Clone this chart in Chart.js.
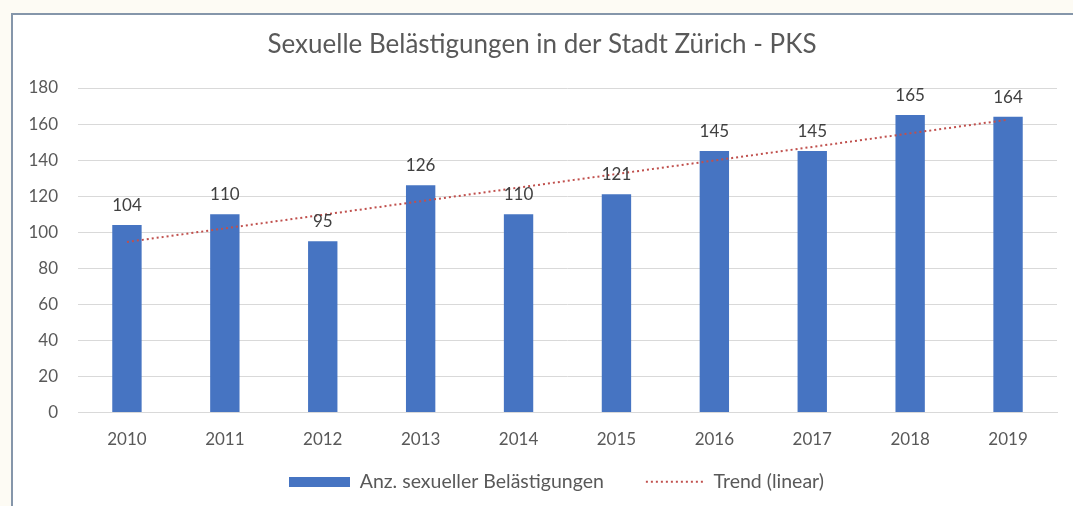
<!DOCTYPE html>
<html>
<head>
<meta charset="utf-8">
<script src="https://cdn.jsdelivr.net/npm/chart.js@4"></script>
<style>
  html, body { margin: 0; padding: 0; background: #fdfbf4; }
  #frame {
    position: absolute; left: 11px; top: 13px; width: 1070px; height: 500px;
    background: #ffffff; border-left: 2px solid #8596aa; border-top: 2px solid #8596aa;
  }
  #wrap { position: absolute; left: 0; top: 0; width: 1073px; height: 506px; }
</style>
</head>
<body>
<div id="frame"></div>
<div id="wrap"><canvas id="chart" width="1073" height="506"></canvas></div>
<script>
const years = ["2010", "2011", "2012", "2013", "2014", "2015", "2016", "2017", "2018", "2019"];
const cases = [104, 110, 95, 126, 110, 121, 145, 145, 165, 164];
const yTicks = [0, 20, 40, 60, 80, 100, 120, 140, 160, 180];

const titleText = "Sexuelle Belästigungen in der Stadt Zürich - PKS";
const barLabel = "Anz. sexueller Belästigungen";
const trendLabel = "Trend (linear)";

// least squares line through the bar values, like Excel's linear trend
function linearTrend(values) {
  const n = values.length;
  const mx = (n - 1) / 2;
  const my = values.reduce((a, b) => a + b, 0) / n;
  let sxy = 0, sxx = 0;
  values.forEach((v, i) => {
    sxy += (i - mx) * (v - my);
    sxx += (i - mx) * (i - mx);
  });
  const slope = sxy / sxx;
  return values.map((v, i) => my + slope * (i - mx));
}

const font = "Lato, 'Open Sans', sans-serif";
const textGrey = "#595959";
const barBlue = "#4674c2";
const trendRed = "#c0504d";

// legend swatches, drawn at the right end of a wide box so the gaps look like Excel's
function barSwatch() {
  const c = document.createElement("canvas");
  c.width = 90;
  c.height = 10;
  const g = c.getContext("2d");
  g.fillStyle = barBlue;
  g.fillRect(29, 0, 61, 10);
  return c;
}

function dottedSwatch() {
  const c = document.createElement("canvas");
  c.width = 90;
  c.height = 4;
  const g = c.getContext("2d");
  g.strokeStyle = trendRed;
  g.lineWidth = 2;
  g.setLineDash([2, 3]);
  g.beginPath();
  g.moveTo(32, 2);
  g.lineTo(90, 2);
  g.stroke();
  return c;
}

const barLabels = {
  id: "barLabels",
  afterDatasetsDraw(chart) {
    const ctx = chart.ctx;
    const meta = chart.getDatasetMeta(1);
    ctx.save();
    ctx.font = "17px " + font;
    ctx.fillStyle = "#404040";
    ctx.textAlign = "center";
    ctx.textBaseline = "alphabetic";
    meta.data.forEach((bar, i) => {
      ctx.fillText(String(cases[i]), bar.x, bar.y - 14);
    });
    ctx.restore();
  }
};

const swatches = [dottedSwatch(), barSwatch()];

new Chart(document.getElementById("chart"), {
  data: {
    labels: years,
    datasets: [
      {
        type: "line",
        label: trendLabel,
        data: linearTrend(cases),
        borderColor: trendRed,
        backgroundColor: trendRed,
        borderWidth: 2,
        borderDash: [2, 3],
        pointRadius: 0,
        tension: 0,
        order: 0
      },
      {
        type: "bar",
        label: barLabel,
        data: cases,
        backgroundColor: barBlue,
        borderWidth: 0,
        barPercentage: 0.6,
        categoryPercentage: 0.5,
        order: 1
      }
    ]
  },
  options: {
    responsive: false,
    animation: false,
    layout: { padding: { top: 0, right: 16, bottom: 4.5, left: 27 } },
    plugins: {
      title: {
        display: true,
        text: titleText,
        color: textGrey,
        font: { family: font, size: 26, weight: "normal" },
        padding: { top: 29, bottom: 27.8 }
      },
      legend: {
        position: "bottom",
        reverse: true,
        labels: {
          usePointStyle: true,
          pointStyleWidth: 90,
          boxHeight: 10,
          padding: 10,
          color: textGrey,
          font: { family: font, size: 19.5 },
          generateLabels(chart) {
            const items = Chart.defaults.plugins.legend.labels.generateLabels(chart);
            items.forEach(it => {
              it.pointStyle = swatches[it.datasetIndex];
              it.fontColor = textGrey;
              it.lineWidth = 0;
            });
            return items;
          }
        }
      },
      tooltip: { enabled: false }
    },
    scales: {
      x: {
        grid: { display: false },
        border: { display: true, color: "#d9d9d9" },
        ticks: { color: textGrey, font: { family: font, size: 17 }, padding: 9 },
        afterFit(scale) { scale.height = 49.5; }
      },
      y: {
        min: 0,
        max: 180,
        afterBuildTicks(scale) { scale.ticks = yTicks.map(v => ({ value: v })); },
        grid: { color: "#d9d9d9", drawTicks: false },
        border: { display: false },
        ticks: { color: textGrey, font: { family: font, size: 17 }, padding: 20 },
        afterFit(scale) { scale.width = 51; }
      }
    }
  },
  plugins: [barLabels]
});
</script>
</body>
</html>
